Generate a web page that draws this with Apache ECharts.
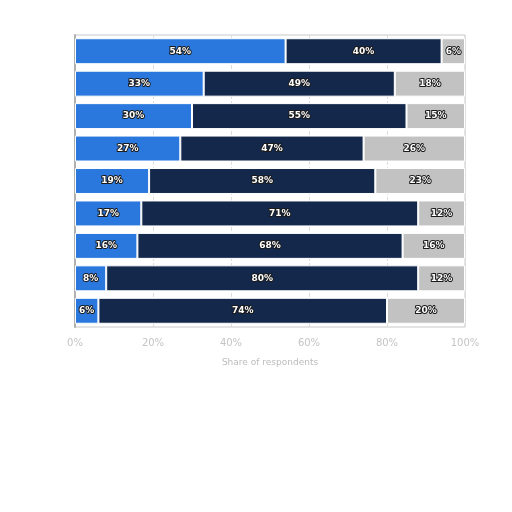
<!DOCTYPE html>
<html><head><meta charset="utf-8">
<script src="https://cdn.jsdelivr.net/npm/echarts@6/dist/echarts.min.js"></script>
<style>html,body{margin:0;padding:0;background:#fff}#c{width:512px;height:512px}</style>
</head><body><div id="c"></div>
<script>
var categories = ['A','B','C','D','E','F','G','H','I'];
var seriesA = [54,33,30,27,19,17,16,8,6];
var seriesB = [40,49,55,47,58,71,68,80,74];
var seriesC = [6,18,15,26,23,12,16,12,20];
var xTicks = ['0%','20%','40%','60%','80%','100%'];
var axisTitle = 'Share of respondents';

var chart = echarts.init(document.getElementById('c'));
var lbl = {show:true, position:'inside', formatter:'{c}%', color:'#fff', fontSize:9, fontWeight:'bold',
  fontFamily:'DejaVu Sans', textBorderColor:'#1a1a1a', textBorderWidth:2};
function mk(name, data, color){
  return {name:name, type:'bar', stack:'s', data:data, barCategoryGap:'20%',
    itemStyle:{color:color, borderColor:'#fff', borderWidth:1}, label:lbl};
}
chart.setOption({
  animation:false,
  grid:{left:75, right:47, top:35, bottom:185, show:true, borderColor:'#c8c8c8', borderWidth:1, backgroundColor:'transparent'},
  xAxis:{type:'value', min:0, max:100, interval:20,
    axisLabel:{formatter:function(v){return xTicks[v/20];}, color:'#c4c4c4', fontSize:10, fontFamily:'DejaVu Sans', margin:11},
    splitLine:{lineStyle:{color:'#dddddd', type:'dashed', width:1}},
    axisLine:{show:false}, axisTick:{show:false},
    name:axisTitle, nameLocation:'middle', nameGap:31, nameTextStyle:{color:'#bbbbbb', fontSize:9, fontFamily:'DejaVu Sans'}},
  yAxis:{type:'category', data:categories, inverse:true,
    axisLabel:{show:false}, axisTick:{show:false},
    axisLine:{show:true, lineStyle:{color:'#b0b0b0', width:2}}},
  series:[mk('a',seriesA,'#2a78de'), mk('b',seriesB,'#13284a'), mk('c',seriesC,'#c2c2c2')]
});
</script></body></html>
